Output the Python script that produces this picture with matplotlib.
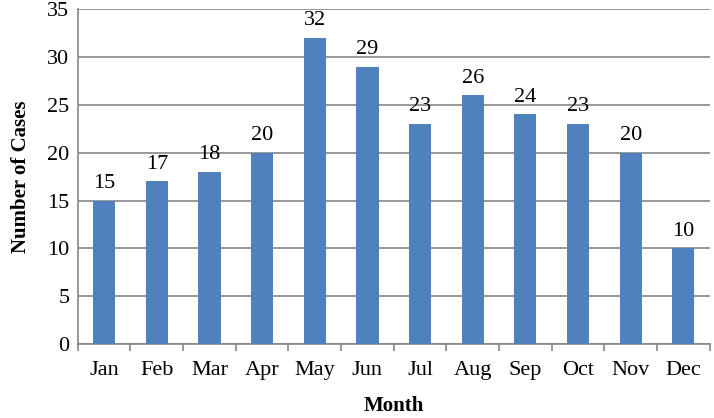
import matplotlib
matplotlib.use('Agg')
import matplotlib.pyplot as plt
import numpy as np

months = ['Jan', 'Feb', 'Mar', 'Apr', 'May', 'Jun', 'Jul', 'Aug', 'Sep', 'Oct', 'Nov', 'Dec']
cases = [15, 17, 18, 20, 32, 29, 23, 26, 24, 23, 20, 10]
y_ticks = [0, 5, 10, 15, 20, 25, 30, 35]

plt.rcParams['font.family'] = ['Liberation Serif', 'DejaVu Serif']

fig = plt.figure(figsize=(7.14, 4.18), dpi=100)
ax = fig.add_axes([0.109, 0.177, 0.885, 0.801])

x = np.arange(len(months))
ax.bar(x, cases, width=0.42, color='#4F81BD', zorder=3)
for xi, v in zip(x, cases):
    ax.text(xi, v + 0.8, str(v), ha='center', va='bottom', fontsize=16)

ax.set_xlim(-0.5, len(months) - 0.5)
ax.set_ylim(0, 35)
ax.set_yticks(y_ticks)
ax.tick_params(axis='y', length=0, labelsize=16, pad=6)
ax.yaxis.grid(True, color='#868686', linewidth=1.2, zorder=0)

ax.set_xticks(x)
ax.set_xticklabels(months)
ax.set_xticks(np.arange(-0.5, len(months)), minor=True)
ax.tick_params(axis='x', which='major', length=0, labelsize=16, pad=12)
ax.tick_params(axis='x', which='minor', length=5, color='#868686', width=1.2)

for s in ['top', 'right']:
    ax.spines[s].set_visible(False)
for s in ['left', 'bottom']:
    ax.spines[s].set_color('#868686')
    ax.spines[s].set_linewidth(1.2)

ax.set_xlabel('Month', fontsize=15, fontweight='bold', labelpad=12)
ax.set_ylabel('Number of Cases', fontsize=15, fontweight='bold', labelpad=12)

fig.savefig('out.png', dpi=100)
